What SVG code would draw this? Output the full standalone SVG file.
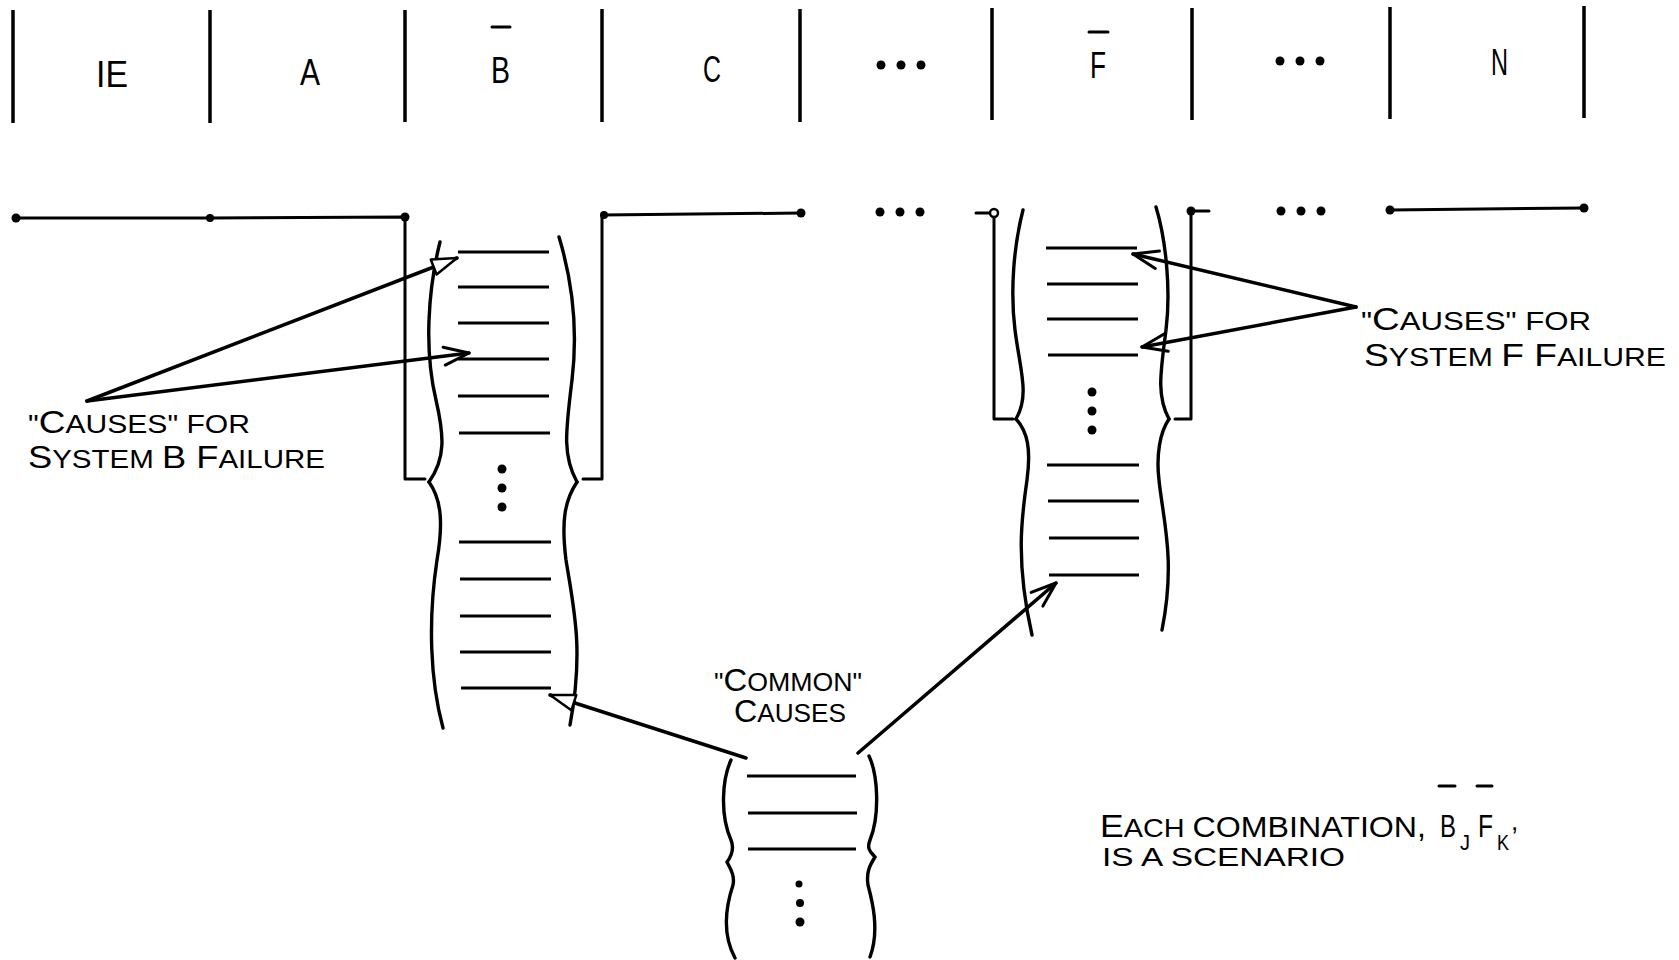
<svg xmlns="http://www.w3.org/2000/svg" width="1679" height="960" viewBox="0 0 1679 960">
<style>
  .ln{stroke:#000;stroke-width:3;fill:none;stroke-linecap:round;stroke-linejoin:round}
  .div{stroke:#000;stroke-width:3.5;fill:none}
  .rung{stroke:#000;stroke-width:3;fill:none}
  .wave{stroke:#000;stroke-width:3.4;fill:none;stroke-linecap:round}
  .arr{stroke:#000;stroke-width:3.5;fill:none;stroke-linecap:round}
  .dot{fill:#000}
  text{font-family:"Liberation Sans","DejaVu Sans",sans-serif;fill:#000}
  .top{font-size:37px}
  .sm{font-size:26px}
  .bg{font-size:32px}
</style>
<defs>
  <marker id="vee" markerUnits="userSpaceOnUse" viewBox="0 0 30 22" refX="28" refY="11" markerWidth="30" markerHeight="22" orient="auto">
    <path d="M3,2 L28,11 L3,20" fill="none" stroke="#000" stroke-width="3" stroke-linecap="round" stroke-linejoin="round"/>
  </marker>
  <marker id="tri" markerUnits="userSpaceOnUse" viewBox="0 0 30 22" refX="28" refY="11" markerWidth="30" markerHeight="22" orient="auto">
    <path d="M3,3 L28,11 L3,19 Z" fill="#fff" stroke="#000" stroke-width="2.5" stroke-linejoin="round"/>
  </marker>
</defs>
<rect width="1679" height="960" fill="#fff"/>

<g id="header">
  <line class="div" x1="13" y1="10" x2="13" y2="123"/>
  <line class="div" x1="210" y1="10" x2="210" y2="123"/>
  <line class="div" x1="405" y1="10" x2="405" y2="122"/>
  <line class="div" x1="602" y1="9" x2="602" y2="122"/>
  <line class="div" x1="800" y1="9" x2="800" y2="122"/>
  <line class="div" x1="992" y1="8" x2="992" y2="120"/>
  <line class="div" x1="1192" y1="8" x2="1192" y2="120"/>
  <line class="div" x1="1390" y1="7" x2="1390" y2="119"/>
  <line class="div" x1="1584" y1="6" x2="1584" y2="118"/>
</g>
<g id="node-IE"><text class="top" x="96" y="87" textLength="32" lengthAdjust="spacingAndGlyphs">IE</text></g>
<g id="node-A"><text class="top" x="300" y="85" textLength="20" lengthAdjust="spacingAndGlyphs">A</text></g>
<g id="node-B"><text class="top" x="491" y="83" textLength="19" lengthAdjust="spacingAndGlyphs">B</text><line class="ln" x1="492" y1="27" x2="510" y2="27"/></g>
<g id="node-C"><text class="top" x="703" y="82" textLength="18" lengthAdjust="spacingAndGlyphs">C</text></g>
<g id="node-dots1"><circle class="dot" cx="881" cy="65" r="4.5"/><circle class="dot" cx="901" cy="65" r="4.5"/><circle class="dot" cx="921" cy="65" r="4.5"/></g>
<g id="node-F"><text class="top" x="1090" y="78" textLength="16" lengthAdjust="spacingAndGlyphs">F</text><line class="ln" x1="1089" y1="32" x2="1108" y2="32"/></g>
<g id="node-dots2"><circle class="dot" cx="1280" cy="61" r="4.5"/><circle class="dot" cx="1300" cy="61" r="4.5"/><circle class="dot" cx="1320" cy="61" r="4.5"/></g>
<g id="node-N"><text class="top" x="1491" y="75" textLength="17" lengthAdjust="spacingAndGlyphs">N</text></g>

<g id="event-tree">
  <polyline class="ln" points="16,218 210,218 405,217 405,479 425,479"/>
  <circle class="dot" cx="16" cy="218" r="4.5"/>
  <circle class="dot" cx="210" cy="218" r="4"/>
  <circle class="dot" cx="405" cy="217" r="4.5"/>
  <polyline class="ln" points="583,479 602,479 602,215 801,213"/>
  <circle class="dot" cx="604" cy="215" r="4"/>
  <circle class="dot" cx="801" cy="213" r="4.5"/>
  <circle class="dot" cx="880" cy="212" r="4.5"/><circle class="dot" cx="900" cy="212" r="4.5"/><circle class="dot" cx="920" cy="212" r="4.5"/>
  <polyline class="ln" points="976,213 990,213"/>
  <polyline class="ln" points="994,217 994,419 1013,419"/>
  <circle cx="994" cy="213" r="4" fill="#fff" stroke="#000" stroke-width="2.5"/>
  <polyline class="ln" points="1209,211 1191,211 1191,419 1175,419"/>
  <circle class="dot" cx="1191" cy="211" r="4.5"/>
  <circle class="dot" cx="1281" cy="211" r="4.5"/><circle class="dot" cx="1301" cy="211" r="4.5"/><circle class="dot" cx="1321" cy="211" r="4.5"/>
  <line class="ln" x1="1390" y1="210" x2="1584" y2="208"/>
  <circle class="dot" cx="1390" cy="210" r="4.5"/>
  <circle class="dot" cx="1584" cy="208" r="4.5"/>
</g>

<g id="node-B-causes">
  <path class="wave" d="M440,242 C428,290 424,350 436,400 C444,435 446,458 429,482"/>
  <path class="wave" d="M429,482 C442,500 443,525 437,560 C428,620 430,680 443,728"/>
  <path class="wave" d="M559,237 C572,280 578,330 572,380 C566,430 562,455 577,482"/>
  <path class="wave" d="M577,482 C565,500 561,520 566,560 C574,610 584,650 570,725"/>
  <line class="rung" x1="458" y1="252" x2="549" y2="252"/>
  <line class="rung" x1="458" y1="287" x2="549" y2="287"/>
  <line class="rung" x1="458" y1="323" x2="549" y2="323"/>
  <line class="rung" x1="458" y1="359" x2="549" y2="359"/>
  <line class="rung" x1="458" y1="396" x2="549" y2="396"/>
  <line class="rung" x1="459" y1="433" x2="550" y2="433"/>
  <circle class="dot" cx="502" cy="469" r="4.5"/>
  <circle class="dot" cx="502" cy="488" r="4.5"/>
  <circle class="dot" cx="502" cy="507" r="4.5"/>
  <line class="rung" x1="459" y1="542" x2="551" y2="542"/>
  <line class="rung" x1="460" y1="579" x2="551" y2="579"/>
  <line class="rung" x1="460" y1="616" x2="551" y2="616"/>
  <line class="rung" x1="460" y1="652" x2="551" y2="652"/>
  <line class="rung" x1="461" y1="688" x2="551" y2="688"/>
</g>

<g id="node-F-causes">
  <path class="wave" d="M1023,210 C1014,245 1010,290 1015,330 C1020,370 1030,395 1016,419"/>
  <path class="wave" d="M1016,419 C1028,432 1031,450 1027,480 C1022,515 1015,560 1032,635"/>
  <path class="wave" d="M1156,207 C1166,240 1171,290 1166,330 C1161,370 1156,395 1169,419"/>
  <path class="wave" d="M1169,419 C1160,432 1156,455 1159,480 C1163,520 1176,560 1162,630"/>
  <line class="rung" x1="1046" y1="248" x2="1137" y2="248"/>
  <line class="rung" x1="1047" y1="284" x2="1138" y2="284"/>
  <line class="rung" x1="1047" y1="319" x2="1138" y2="319"/>
  <line class="rung" x1="1048" y1="355" x2="1138" y2="355"/>
  <circle class="dot" cx="1092" cy="392" r="4.5"/>
  <circle class="dot" cx="1092" cy="411" r="4.5"/>
  <circle class="dot" cx="1092" cy="430" r="4.5"/>
  <line class="rung" x1="1047" y1="465" x2="1139" y2="465"/>
  <line class="rung" x1="1048" y1="501" x2="1139" y2="501"/>
  <line class="rung" x1="1049" y1="538" x2="1139" y2="538"/>
  <line class="rung" x1="1049" y1="575" x2="1139" y2="575"/>
</g>

<g id="node-common">
  <path class="wave" d="M731,760 C722,780 720,815 731,840 C735,850 730,858 727,862 C730,868 735,875 733,885 C728,900 720,930 735,958"/>
  <path class="wave" d="M869,756 C878,775 880,815 870,840 C866,850 872,853 875,857 C870,865 866,872 868,885 C872,900 880,930 870,957"/>
  <line class="rung" x1="747" y1="776" x2="856" y2="776"/>
  <line class="rung" x1="748" y1="813" x2="857" y2="813"/>
  <line class="rung" x1="748" y1="849" x2="856" y2="849"/>
  <circle class="dot" cx="799" cy="884" r="3.5"/>
  <circle class="dot" cx="800" cy="903" r="4"/>
  <circle class="dot" cx="800" cy="922" r="4.5"/>
  <text class="sm" x="714" y="691" textLength="148" lengthAdjust="spacingAndGlyphs">"<tspan class="bg">C</tspan>OMMON"</text>
  <text class="sm" x="734" y="722" textLength="112" lengthAdjust="spacingAndGlyphs"><tspan class="bg">C</tspan>AUSES</text>
</g>

<g id="label-B">
  <text class="sm" x="28" y="433" textLength="222" lengthAdjust="spacingAndGlyphs">"<tspan class="bg">C</tspan>AUSES" FOR</text>
  <text class="sm" x="28" y="468" textLength="297" lengthAdjust="spacingAndGlyphs"><tspan class="bg">S</tspan>YSTEM <tspan class="bg">B F</tspan>AILURE</text>
</g>

<g id="label-F">
  <text class="sm" x="1361" y="330" textLength="230" lengthAdjust="spacingAndGlyphs">"<tspan class="bg">C</tspan>AUSES" FOR</text>
  <text class="sm" x="1364" y="366" textLength="302" lengthAdjust="spacingAndGlyphs"><tspan class="bg">S</tspan>YSTEM <tspan class="bg">F F</tspan>AILURE</text>
</g>

<g id="label-scenario">
  <text class="sm" x="1100" y="837" textLength="326" lengthAdjust="spacingAndGlyphs"><tspan class="bg">E</tspan>ACH <tspan style="font-size:29px">COMBINATION,</tspan></text>
  <text class="bg" x="1440" y="837" textLength="16" lengthAdjust="spacingAndGlyphs">B</text>
  <line class="ln" x1="1439" y1="786" x2="1455" y2="786"/>
  <text x="1460" y="850" style="font-size:22px" textLength="10" lengthAdjust="spacingAndGlyphs">J</text>
  <text class="bg" x="1478" y="837" textLength="15" lengthAdjust="spacingAndGlyphs">F</text>
  <line class="ln" x1="1477" y1="786" x2="1492" y2="786"/>
  <text x="1497" y="850" style="font-size:22px" textLength="12" lengthAdjust="spacingAndGlyphs">K</text>
  <text class="sm" x="1511" y="830">,</text>
  <text class="sm" x="1102" y="866" textLength="243" lengthAdjust="spacingAndGlyphs">IS A SCENARIO</text>
</g>

<g id="connectors">
  <line class="arr" x1="87" y1="401" x2="457" y2="258" marker-end="url(#tri)"/>
  <line class="arr" x1="87" y1="401" x2="469" y2="353" marker-end="url(#vee)"/>
  <line class="arr" x1="1356" y1="307" x2="1133" y2="254" marker-end="url(#vee)"/>
  <line class="arr" x1="1356" y1="307" x2="1142" y2="347" marker-end="url(#vee)"/>
  <line class="arr" x1="746" y1="758" x2="550" y2="695" marker-end="url(#tri)"/>
  <line class="arr" x1="858" y1="753" x2="1056" y2="583" marker-end="url(#vee)"/>
</g>
</svg>
